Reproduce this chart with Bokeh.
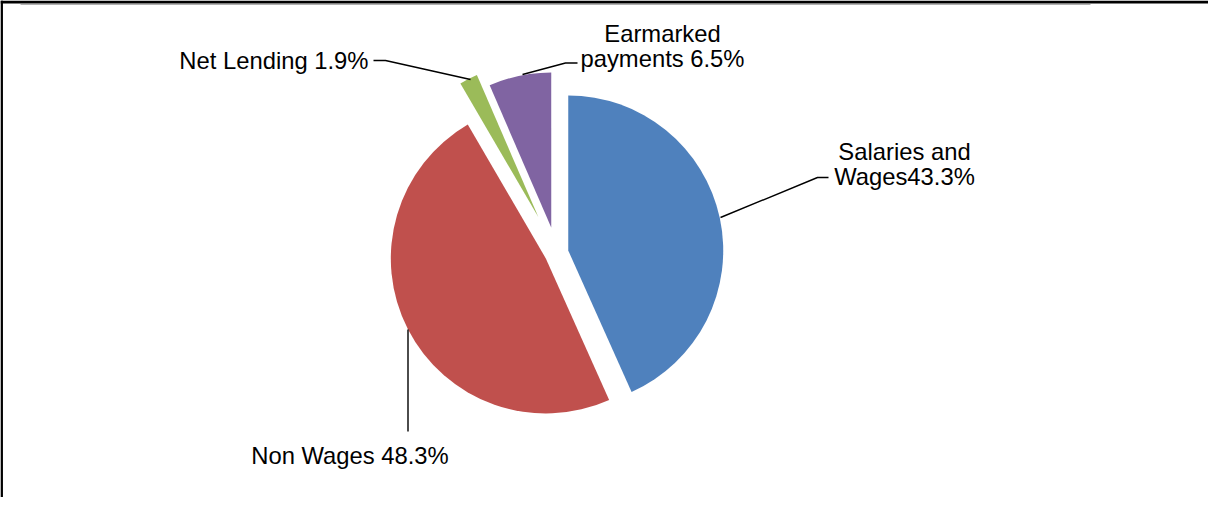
import math
from bokeh.plotting import figure
from bokeh.models import Range1d
from bokeh.core.properties import value
from bokeh.embed import file_html
from bokeh.resources import INLINE

# ---- data ----
categories = ["Salaries and Wages", "Non Wages", "Net Lending", "Earmarked payments"]
values = [43.3, 48.3, 1.9, 6.5]
colors = ["#4F81BD", "#C0504D", "#9BBB59", "#8064A2"]
# label text lines (value inserted from `values`)
label_templates = [["Salaries and", "Wages{v}%"],
                   ["Non Wages {v}%"],
                   ["Net Lending {v}%"],
                   ["Earmarked", "payments {v}%"]]

# ---- style / layout ----
explode = [12, 12, 40, 26]          # px offset along bisector
CX, CY, R = 556, 252.5, 155          # picture pixel coords of the pie centre
FONT = "Liberation Sans"
FS = "23.8px"

W, H = 1208, 497
p = figure(width=W, height=H, output_backend="svg", toolbar_location=None,
           x_range=Range1d(0, W), y_range=Range1d(-H, 0),
           min_border=0)
p.axis.visible = False
p.grid.visible = False
p.outline_line_color = None
p.background_fill_color = "white"

def Y(py):
    return -py

total = sum(values)
cum = 0.0
tips = []
for val, col, ex in zip(values, colors, explode):
    t1 = cum / total * 360.0
    t2 = (cum + val) / total * 360.0
    cum += val
    tm = math.radians((t1 + t2) / 2)
    ax = CX + ex * math.sin(tm)
    ay = CY - ex * math.cos(tm)
    p.wedge(x=[ax], y=[Y(ay)], radius=R, radius_units="data",
            start_angle=math.radians(90 - t2), end_angle=math.radians(90 - t1),
            direction="anticlock", fill_color=col, line_color=None)
    tips.append((ax, ay, tm))

# leader lines (picture coords)
leaders = [
    [(828, 177), (817, 177), (720, 217)],
    [(407.5, 431), (407.5, 329)],
    [(373, 60), (385, 60), (470, 79)],
    [(577, 62.5), (565, 62.5), (522, 74)],
]
for pts in leaders:
    p.line([q[0] for q in pts], [Y(q[1]) for q in pts], line_color="black", line_width=1.4)

# labels: (x, first baseline, align)
label_pos = [(904, 151, "center"), (349.5, 455, "center"), (368, 59.5, "right"), (662, 32.5, "center")]
LINE_GAP = 25
for tmpl, val, (lx, ly, al) in zip(label_templates, values, label_pos):
    for k, line in enumerate(tmpl):
        p.text(x=[lx], y=[Y(ly + k * LINE_GAP)], text=[line.format(v=val)],
               text_font=value(FONT), text_font_size=FS, text_color="black",
               text_align=al, text_baseline="alphabetic")

# chart frame (left & top borders)
p.line([1.2, 1.2], [Y(0), Y(H)], line_color="black", line_width=2.5)
p.line([0, W], [Y(1.5), Y(1.5)], line_color="black", line_width=3)
p.line([20, 1090], [Y(4), Y(4)], line_color="#b0b0b0", line_width=1)

open("out.html", "w").write(file_html(p, INLINE))
